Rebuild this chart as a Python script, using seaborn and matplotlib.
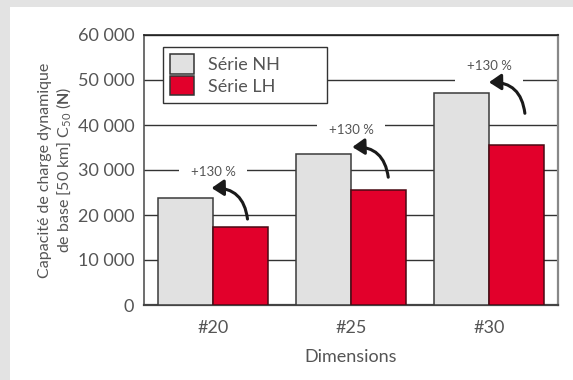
import matplotlib
matplotlib.use("Agg")
import matplotlib.pyplot as plt
import matplotlib.ticker as mticker
from matplotlib.patches import Rectangle
import seaborn as sns
import pandas as pd

dimensions = ["#20", "#25", "#30"]
series = ["Série NH", "Série LH"]
nh_values = [23700, 33500, 47000]
lh_values = [17400, 25500, 35500]
gain_label = "+130 %"
yticks = [0, 10000, 20000, 30000, 40000, 50000, 60000]

df = pd.DataFrame({
    "Dimensions": dimensions * 2,
    "cap": nh_values + lh_values,
    "serie": [series[0]] * 3 + [series[1]] * 3,
})

sns.set_theme(style="white")
plt.rcParams["font.family"] = ["Lato", "DejaVu Sans"]
plt.rcParams["mathtext.fontset"] = "custom"
plt.rcParams["mathtext.rm"] = "Lato"
plt.rcParams["mathtext.bf"] = "Lato:bold"

txt = "#555555"
gray = "#e1e1e1"
red = "#e2002b"

fig = plt.figure(figsize=(5.73, 3.80), dpi=100)
fig.patch.set_facecolor("white")
fig.patches.append(Rectangle((0, 1 - 7 / 380), 1, 7 / 380, transform=fig.transFigure,
                             facecolor="#e3e3e3", edgecolor="none", zorder=0))
fig.patches.append(Rectangle((0, 0), 10 / 573, 1, transform=fig.transFigure,
                             facecolor="#e3e3e3", edgecolor="none", zorder=0))

ax = fig.add_axes([144 / 573, 1 - 305 / 380, 414 / 573, 270 / 380])
sns.barplot(data=df, x="Dimensions", y="cap", hue="serie", palette=[gray, red],
            width=0.8, saturation=1, linewidth=1.1, ax=ax)
for cont, ec in zip(ax.containers, ["#3a3a3a", "#4a0a14"]):
    for bar in cont:
        bar.set_edgecolor(ec)
        bar.set_zorder(3)

ax.set_ylim(0, 60000)
ax.set_yticks(yticks)
ax.yaxis.set_major_formatter(mticker.FuncFormatter(lambda v, p: f"{int(v):,}".replace(",", " ")))
ax.yaxis.grid(True, color="#333333", lw=1)
ax.set_axisbelow(True)
ax.tick_params(axis="y", length=0, labelsize=13, labelcolor=txt, pad=7)
ax.tick_params(axis="x", length=0, labelsize=13, labelcolor=txt, pad=11)
ax.set_xticks([0.5, 1.5], minor=True)
ax.tick_params(axis="x", which="minor", direction="in", length=5, width=1, color="#333333")

for side, col, lw in [("top", "#222222", 1.2), ("left", "#555555", 1.2),
                      ("bottom", "#444444", 1.6), ("right", "#888888", 1.6)]:
    ax.spines[side].set_visible(True)
    ax.spines[side].set_color(col)
    ax.spines[side].set_linewidth(lw)

ax.set_xlabel("Dimensions", fontsize=13, color=txt, labelpad=9)
ax.set_ylabel("Capacité de charge dynamique\nde base [50 km] C$_{\\mathregular{50}}$ ($\\mathbf{N}$)",
              fontsize=11.5, color=txt, linespacing=1.15)
ax.yaxis.set_label_coords(-0.17, 0.5)

# curved arrows from LH bar to NH bar
starts = [(0.25, 1700), (0.27, 2900), (0.26, 7100)]
ends = [(-0.01, 2300), (0.01, 1600), (0.0, 2500)]
text_off = [5800, 5400, 6100]
for i in range(3):
    ax.annotate("", xy=(i + ends[i][0], nh_values[i] + ends[i][1]),
                xytext=(i + starts[i][0], lh_values[i] + starts[i][1]),
                arrowprops=dict(arrowstyle="-|>,head_length=0.6,head_width=0.4",
                                connectionstyle="arc3,rad=0.45", color="#1a1a1a",
                                lw=2.2, shrinkA=0, shrinkB=0), zorder=5)
    ax.text(i, nh_values[i] + text_off[i], gain_label, ha="center", va="center",
            fontsize=9.5, color="#555555", zorder=4,
            bbox=dict(facecolor="white", edgecolor="none", boxstyle="square,pad=0.9"))

leg = ax.legend(loc="upper left", bbox_to_anchor=(0.046, 0.5, 0.396, 0.4556), mode="expand",
                fontsize=13, frameon=True, fancybox=False, handlelength=1.3, handleheight=1.3,
                borderpad=0.4, labelspacing=0.1, handletextpad=0.8, borderaxespad=0)
leg.get_frame().set_edgecolor("#333333")
leg.get_frame().set_linewidth(1.0)
leg.get_frame().set_alpha(1)
leg.set_zorder(6)
for t in leg.get_texts():
    t.set_color(txt)
for h in leg.legend_handles:
    h.set_edgecolor("#333333")

fig.savefig("out.png", dpi=100, facecolor=fig.get_facecolor())
